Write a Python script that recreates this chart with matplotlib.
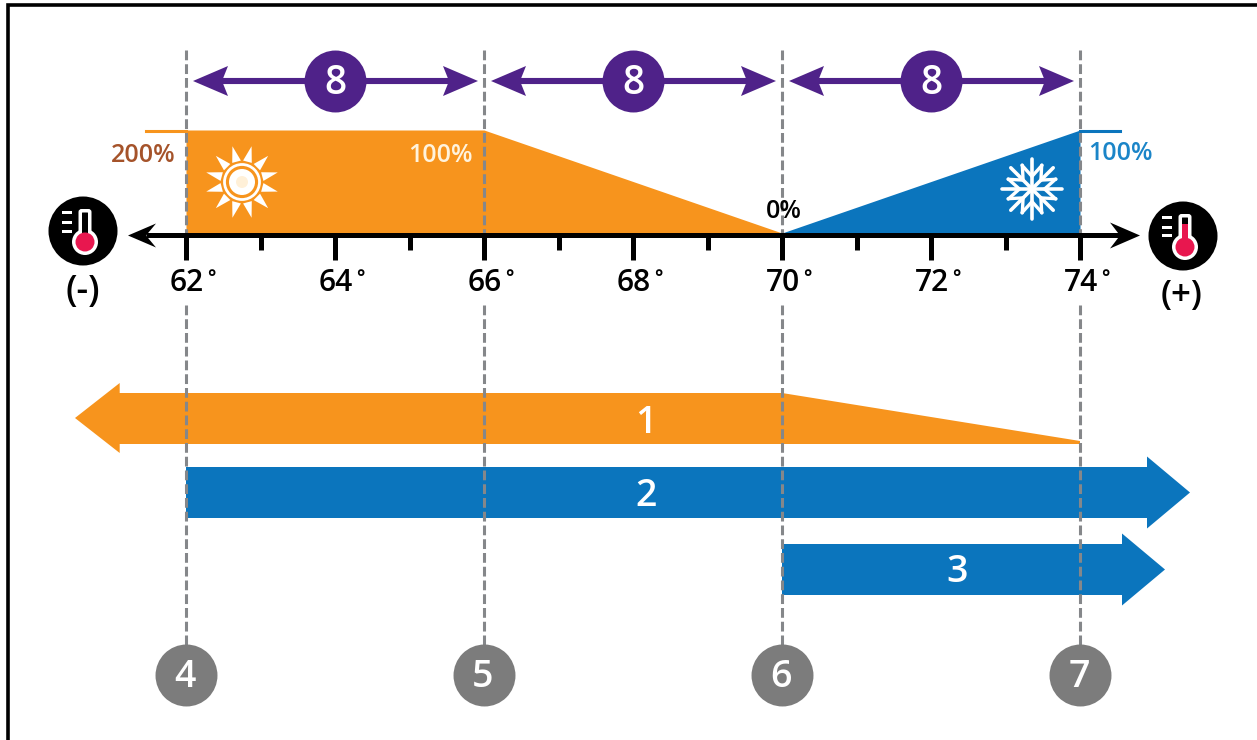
import numpy as np
from matplotlib import pyplot as plt
from matplotlib.patches import Polygon, Circle, Rectangle, FancyBboxPatch
from matplotlib.transforms import Affine2D

# setpoint scale, in degrees
major_temps = [62, 64, 66, 68, 70, 72, 74]
minor_temps = [63, 65, 67, 69, 71, 73]
setpoints = [62, 66, 70, 74]
setpoint_labels = ['4', '5', '6', '7']
span_labels = ['8', '8', '8']

# output ramps, as a share of the drawn full height
heat_temps = [62, 66, 70]
heat_levels = [100, 100, 0]
cool_temps = [70, 74]
cool_levels = [0, 100]

ORANGE = '#f7941d'
BLUE = '#0b75bd'
PURPLE = '#4f2289'
GREY = '#7c7c7c'
DASH = '#85878a'
RED = '#e8174f'
FONT = 'Open Sans'
WEIGHT = 'semibold'

W, H = 1257, 740
PX_PER_DEG = 74.5
BASE_Y, TOP_Y = 233, 130

fig = plt.figure(figsize=(W / 100, H / 100), dpi=100)
ax = fig.add_axes((0, 0, 1, 1))
ax.set_xlim(62 - 186 / PX_PER_DEG, 62 + (W - 186) / PX_PER_DEG)
ax.set_ylim(H, 0)
ax.axis('off')

# icons are laid out in image pixels
px = Affine2D().scale(1, -1).translate(0, H)


def level_to_y(levels):
    return [BASE_Y - (BASE_Y - TOP_Y) * v / 100 for v in levels]


def deg(pixels):
    return pixels / PX_PER_DEG


def put_text(x, y, s, color='black', size=27, ha='center', z=7, **kwargs):
    ax.text(x, y, s, color=color, fontsize=size, family=FONT, fontweight=WEIGHT, ha=ha, va='center', zorder=z, **kwargs)


def stealth_head(tip, y, direction, length, half, notch, color, z=5):
    points = [(tip, y),
              (tip + direction * deg(length), y - half),
              (tip + direction * deg(notch), y),
              (tip + direction * deg(length), y + half)]
    ax.add_patch(Polygon(points, closed=True, fc=color, ec='none', zorder=z))


def block_arrow(start, end, y_top, y_bottom, head_half, head_len, color, label, label_t, label_dy):
    y_mid = (y_top + y_bottom) / 2
    base = end - deg(head_len)
    points = [(start, y_top), (base, y_top), (base, y_mid - head_half), (end, y_mid),
              (base, y_mid + head_half), (base, y_bottom), (start, y_bottom)]
    ax.add_patch(Polygon(points, closed=True, fc=color, ec='none', zorder=2))
    put_text(label_t, y_mid + label_dy, label, color='white', z=3)


def thermometer(cx, cy, fill_top, tick_ys):
    ax.add_patch(Circle((cx, cy), 34.5, fc='black', ec='none', zorder=6, transform=px))
    ax.add_patch(FancyBboxPatch((cx - 1.5, cy - 19), 7, 30, boxstyle='round,pad=3', fc='white', ec='none', zorder=7, transform=px))
    ax.add_patch(Circle((cx + 2, cy + 11), 13, fc='white', ec='none', zorder=7, transform=px))
    ax.add_patch(FancyBboxPatch((cx - 0.5, cy - 18), 5, 28, boxstyle='round,pad=0.5', fc='black', ec='none', zorder=8, transform=px))
    ax.add_patch(Rectangle((cx - 1, cy + fill_top), 6, 10 - fill_top, fc=RED, ec='none', zorder=9, transform=px))
    ax.add_patch(Circle((cx + 2, cy + 11), 9.5, fc=RED, ec='none', zorder=9, transform=px))
    for dy in tick_ys:
        ax.add_patch(Rectangle((cx - 21, cy + dy - 1.5), 10, 3, fc='white', ec='none', zorder=7, transform=px))


def sun(cx, cy):
    for angle in np.arange(15, 360, 30):
        a = np.radians(angle)
        tip = (cx + 37 * np.cos(a), cy + 37 * np.sin(a))
        normal = np.array([-np.sin(a), np.cos(a)]) * 4.5
        root = np.array([cx + 21 * np.cos(a), cy + 21 * np.sin(a)])
        ax.add_patch(Polygon([tip, root + normal, root - normal], closed=True, fc='white', ec='none', zorder=4, transform=px))
    ax.add_patch(Circle((cx, cy), 17.5, fc='none', ec='white', lw=2, zorder=4, transform=px))
    ax.add_patch(Circle((cx, cy), 13, fc='white', ec='none', zorder=4, transform=px))
    ax.add_patch(Circle((cx, cy), 6, fc='#fff0d8', ec='none', zorder=4, transform=px))


def snowflake(cx, cy, radius=30):
    c = np.array([cx, cy])
    for angle in range(0, 360, 45):
        a = np.radians(angle)
        d = np.array([np.cos(a), np.sin(a)])
        ax.plot(*zip(c, c + d * radius), color='white', lw=2.6, zorder=4, transform=px, solid_capstyle='round')
        for side in (-1, 1):
            b = np.radians(angle + side * 42)
            stem = c + d * radius * 0.42
            twig = stem + np.array([np.cos(b), np.sin(b)]) * 15
            ax.plot(*zip(stem, twig), color='white', lw=2.4, zorder=4, transform=px, solid_capstyle='round')


# frame round the picture: left and top only
ax.plot((7.5, 7.5, W), (H, 4.5, 4.5), color='black', lw=2.6, transform=px, zorder=1, solid_joinstyle='miter')

# filled ramps
ax.fill_between(heat_temps, level_to_y(heat_levels), BASE_Y, color=ORANGE, lw=0, zorder=2)
ax.fill_between(cool_temps, level_to_y(cool_levels), BASE_Y, color=BLUE, lw=0, zorder=2)
ax.plot([62 - deg(40), 62], [TOP_Y + 1] * 2, color=ORANGE, lw=2.2, zorder=2)
ax.plot([74, 74 + deg(40)], [TOP_Y + 1] * 2, color=BLUE, lw=2.2, zorder=2)

# dashed setpoint guides
for t in setpoints:
    ax.plot([t, t], [50, BASE_Y], color=DASH, lw=2.2, dashes=(3.2, 1.3), zorder=3)
    ax.plot([t, t], [305, 650], color=DASH, lw=2.2, dashes=(3.2, 1.3), zorder=3)

# temperature axis
ax.plot([62 - deg(40), 74 + deg(40)], [235, 235], color='black', lw=3.6, zorder=5, solid_capstyle='butt')
stealth_head(62 - deg(58), 235.5, 1, 28, 12, 18, 'black')
stealth_head(74 + deg(60), 235.5, -1, 30, 13, 20, 'black')
for t in major_temps:
    ax.plot([t, t], [235, 260], color='black', lw=3.6, zorder=5, solid_capstyle='butt')
    put_text(t - deg(16), 283, f'{t}', size=21.5, ha='left', z=5)
    put_text(t + deg(25), 287, '˚', size=20.5, z=5)
for t in minor_temps:
    ax.plot([t, t], [235, 250], color='black', lw=3.6, zorder=5, solid_capstyle='butt')

# percent labels
ax.text(62 - deg(11), 155, '200%', color='#a5532a', ha='right', fontsize=18, family=FONT, fontweight=WEIGHT, va='center', zorder=5)
ax.text(66 - deg(11), 155, '100%', color='#fff3dd', ha='right', fontsize=18, family=FONT, fontweight=WEIGHT, va='center', zorder=5)
ax.text(70 + deg(2), 212, '0%', color='black', ha='center', fontsize=18, family=FONT, fontweight=WEIGHT, va='center', zorder=5)
ax.text(74 + deg(8), 153, '100%', color='#1b85c8', ha='left', fontsize=18, family=FONT, fontweight=WEIGHT, va='center', zorder=5)

sun(242, 182)
snowflake(1032, 189)
thermometer(83, 231, 2, (-19, -9, 0))
thermometer(1183, 236, -12, (-19, -9, -1))
ax.text(83, 292, '(-)', fontsize=26, family=FONT, fontweight=WEIGHT, ha='center', va='center', zorder=6, transform=px)
ax.text(1182, 296, '(+)', fontsize=25, family=FONT, fontweight=WEIGHT, ha='center', va='center', zorder=6, transform=px)

# span arrows with the purple badges
for left, right, label in zip(setpoints[:-1], setpoints[1:], span_labels):
    ax.plot([left + deg(30), right - deg(30)], [81, 81], color=PURPLE, lw=4.4, zorder=4, solid_capstyle='butt')
    stealth_head(left + deg(7), 81, 1, 35, 15, 29, PURPLE)
    stealth_head(right - deg(6), 81, -1, 35, 15, 29, PURPLE)
    middle = (left + right) / 2
    ax.scatter([middle], [81], s=1990, color=PURPLE, lw=0, zorder=6)
    put_text(middle, 84, label, color='white', size=28)

# block arrows
arrow1_x = [60.51, 61.11, 70, 74]
arrow1_top = [393, 393, 393, 441]
arrow1_bottom = 444
points = [(arrow1_x[0], 418), (arrow1_x[1], 383), (arrow1_x[1], arrow1_top[1]), (arrow1_x[2], arrow1_top[2]),
          (arrow1_x[3], arrow1_top[3]), (arrow1_x[3], arrow1_bottom), (arrow1_x[1], arrow1_bottom), (arrow1_x[1], 453)]
ax.add_patch(Polygon(points, closed=True, fc=ORANGE, ec='none', zorder=2))
put_text(68.17, 423, '1', color='white', z=3)
block_arrow(62, 74 + deg(110), 467, 518, 36, 43, BLUE, '2', 68.17, 3)
block_arrow(70, 74 + deg(85), 544, 595, 36, 43, BLUE, '3', 72.35, 2)

# numbered setpoint badges
for t, label in zip(setpoints, setpoint_labels):
    ax.scatter([t], [675], s=1990, color=GREY, lw=0, zorder=6)
    put_text(t - deg(1), 677, label, color='white')

fig.savefig('out.png', dpi=100)
